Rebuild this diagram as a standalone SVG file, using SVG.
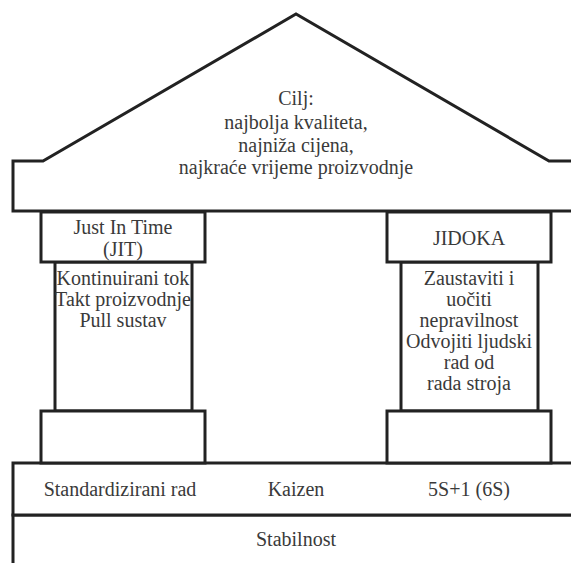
<svg xmlns="http://www.w3.org/2000/svg" width="571" height="563" viewBox="0 0 571 563">
<style>
.s{fill:#fff;stroke:#222;stroke-width:3;stroke-linejoin:miter}
text{font-size:20px;fill:#3a3a3a;text-anchor:middle}
</style>
<rect width="571" height="563" fill="#fff"/>
<g font-family="Liberation Serif, DejaVu Serif, serif">
<g id="stabilnost">
<path class="s" d="M13,563 V515 H590 V563"/>
<text x="296" y="546">Stabilnost</text>
</g>
<g id="band">
<rect class="s" x="13" y="463" width="577" height="52"/>
<text x="120" y="496">Standardizirani rad</text>
<text x="296" y="496">Kaizen</text>
<text x="469" y="496">5S+1 (6S)</text>
</g>
<g id="jit">
<rect class="s" x="55" y="262" width="137" height="149"/>
<rect class="s" x="41" y="411" width="164" height="52"/>
<rect class="s" x="41" y="212" width="164" height="50"/>
<text x="123" y="234">Just In Time</text>
<text x="123" y="256">(JIT)</text>
<text x="123" y="285">Kontinuirani tok</text>
<text x="123" y="306">Takt proizvodnje</text>
<text x="123" y="327">Pull sustav</text>
</g>
<g id="jidoka">
<rect class="s" x="401" y="262" width="137" height="149"/>
<rect class="s" x="387" y="411" width="164" height="52"/>
<rect class="s" x="387" y="212" width="164" height="50"/>
<text x="469" y="245">JIDOKA</text>
<text x="469" y="285">Zaustaviti i</text>
<text x="469" y="306">uočiti</text>
<text x="469" y="327">nepravilnost</text>
<text x="469" y="348">Odvojiti ljudski</text>
<text x="469" y="369">rad od</text>
<text x="469" y="390">rada stroja</text>
</g>
<g id="roof">
<path class="s" d="M13,211 V161 H43 L296,14 L549,161 H590 V211 Z"/>
<text x="296" y="105">Cilj:</text>
<text x="296" y="129">najbolja kvaliteta,</text>
<text x="296" y="152">najniža cijena,</text>
<text x="296" y="174">najkraće vrijeme proizvodnje</text>
</g>
<g id="connectors"></g>
</g>
</svg>
